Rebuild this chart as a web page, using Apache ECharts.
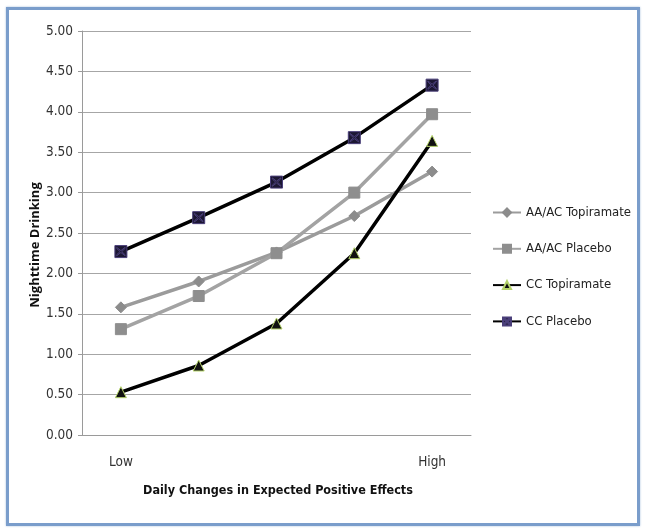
<!DOCTYPE html>
<html>
<head>
<meta charset="utf-8">
<script src="https://cdn.jsdelivr.net/npm/echarts@6/dist/echarts.min.js"></script>
<style>
html,body{margin:0;padding:0;background:#fff;}
#frame{position:absolute;left:6px;top:7px;width:628px;height:513px;border:3px solid #7a9dcb;box-shadow:0 0 2px #a9c0de;}
#chart{position:absolute;left:0;top:0;width:645px;height:532px;}
</style>
</head>
<body>
<div id="frame"></div>
<div id="chart"></div>
<script>
const categories = ['Low', '', '', '', 'High'];
const aaacTopiramate = [1.58, 1.90, 2.26, 2.71, 3.26];
const aaacPlacebo = [1.31, 1.72, 2.25, 3.00, 3.97];
const ccTopiramate = [0.53, 0.86, 1.38, 2.25, 3.64];
const ccPlacebo = [2.27, 2.69, 3.13, 3.68, 4.33];
const yTicks = { min: 0, max: 5, interval: 0.5 };
const yTitle = 'Nighttime Drinking';
const xTitle = 'Daily Changes in Expected Positive Effects';

const narrow = "'Liberation Sans Narrow', 'DejaVu Sans Condensed', 'Roboto', sans-serif";
const chart = echarts.init(document.getElementById('chart'), null, { renderer: 'canvas' });

function mk(name, data, lineColor, symbol, size, fill, border) {
  return {
    name, type: 'line', data,
    symbol, symbolSize: size,
    lineStyle: { color: lineColor, width: 3.5 },
    itemStyle: { color: fill, borderColor: border, borderWidth: 1 },
    emphasis: { disabled: true },
    animation: false,
    z: 3
  };
}

chart.setOption({
  animation: false,
  backgroundColor: 'transparent',
  grid: { left: 82, top: 31, width: 389, height: 404, containLabel: false },
  legend: {
    orient: 'vertical', left: 487, top: 201,
    itemWidth: 28, itemHeight: 10, itemGap: 23.3,
    textStyle: { fontFamily: narrow, fontSize: 13, color: '#222' },
    data: ['AA/AC Topiramate', 'AA/AC Placebo', 'CC Topiramate', 'CC Placebo']
  },
  graphic: [
    {
      type: 'text', x: 35, y: 245, rotation: Math.PI / 2,
      style: {
        text: yTitle, textAlign: 'center', textVerticalAlign: 'middle',
        font: "bold 13px 'Open Sans', 'DejaVu Sans', sans-serif", fill: '#111'
      }
    },
    {
      type: 'text', x: 278, y: 491,
      style: {
        text: xTitle, textAlign: 'center', textVerticalAlign: 'middle',
        font: "bold 12.5px 'Liberation Sans Narrow', 'DejaVu Sans Condensed', 'Roboto', sans-serif", fill: '#111'
      }
    }
  ],
  xAxis: {
    type: 'category', data: categories, boundaryGap: true,
    axisLine: { show: true, lineStyle: { color: '#9a9a9a', width: 1 } },
    axisTick: { show: false },
    axisLabel: { margin: 20, fontFamily: narrow, fontSize: 13.5, color: '#333', interval: 0 }
  },
  yAxis: {
    type: 'value', min: yTicks.min, max: yTicks.max, interval: yTicks.interval,
    axisLine: { show: true, lineStyle: { color: '#9a9a9a', width: 1 } },
    axisTick: { show: true, length: 4, lineStyle: { color: '#9a9a9a' } },
    splitLine: { lineStyle: { color: '#a6a6a6', width: 1 } },
    axisLabel: { margin: 9, fontFamily: narrow, fontSize: 13.5, color: '#333', formatter: v => v.toFixed(2) }
  },
  series: [
    mk('AA/AC Topiramate', aaacTopiramate, '#9b9b9b', 'diamond', 11, '#8c8c8c', '#8c8c8c'),
    mk('AA/AC Placebo', aaacPlacebo, '#a3a3a3', 'rect', 11, '#8e8e8e', '#8e8e8e'),
    mk('CC Topiramate', ccTopiramate, '#000000', 'triangle', 11, '#111111', '#b5d36b'),
    mk('CC Placebo', ccPlacebo, '#000000', 'path://M0,0H10V10H0Z M1.5,1.5L5,4.2L8.5,1.5L8.5,2.4L5.7,5L8.5,7.6L8.5,8.5L5,5.8L1.5,8.5L1.5,7.6L4.3,5L1.5,2.4Z', 12, '#1c1733', '#4a3f7a')
  ]
});
</script>
</body>
</html>
